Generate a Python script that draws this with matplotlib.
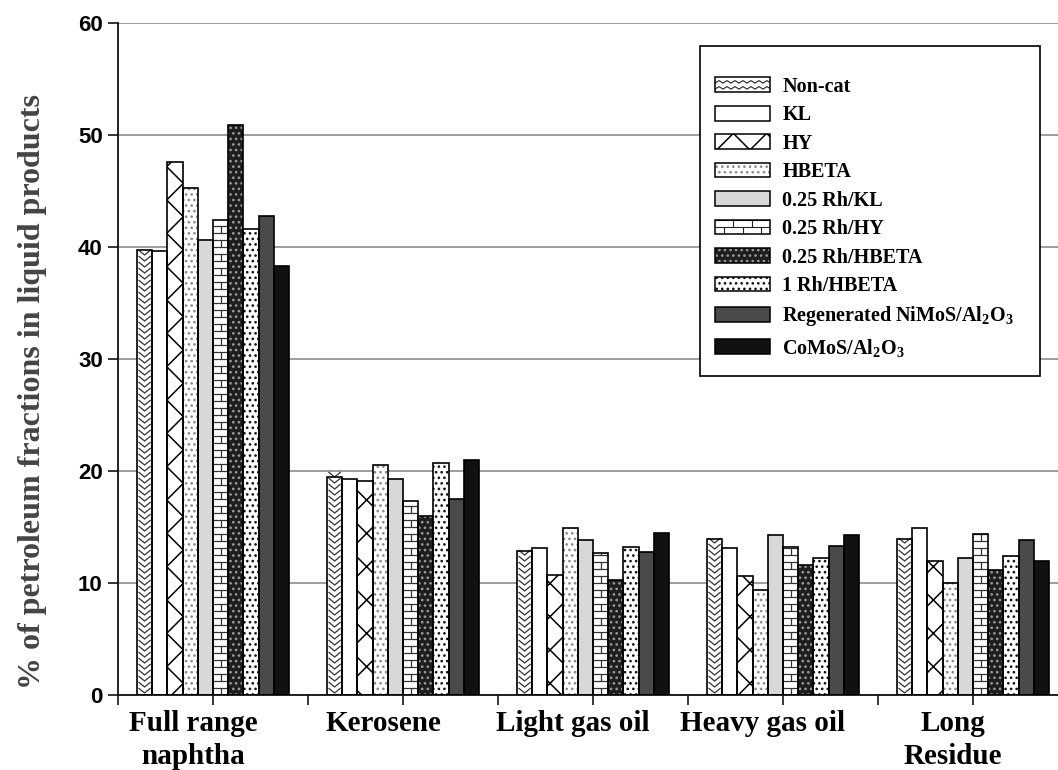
import matplotlib
matplotlib.use('Agg')
import matplotlib.pyplot as plt
import numpy as np
from matplotlib.collections import LineCollection
from matplotlib.patches import Rectangle, Patch
from matplotlib.transforms import ScaledTranslation

plt.rcParams['mathtext.default'] = 'regular'
plt.rcParams['hatch.linewidth'] = 1.1

# Fractions on the x axis and catalysts in each group
fractions = ['Full range\nnaphtha', 'Kerosene', 'Light gas oil', 'Heavy gas oil', 'Long\nResidue']
catalysts = ['Non-cat', 'KL', 'HY', 'HBETA', '0.25 Rh/KL', '0.25 Rh/HY',
             '0.25 Rh/HBETA', '1 Rh/HBETA', 'Regenerated NiMoS/Al$_2$O$_3$',
             'CoMoS/Al$_2$O$_3$']

# % of each fraction in the liquid product
non_cat = [39.7, 19.5, 12.9, 13.9, 13.9]
kl = [39.6, 19.3, 13.1, 13.1, 14.9]
hy = [47.6, 19.1, 10.7, 10.6, 12.0]
hbeta = [45.3, 20.5, 14.9, 9.4, 10.0]
rh_kl = [40.6, 19.3, 13.8, 14.3, 12.2]
rh_hy = [42.4, 17.3, 12.7, 13.2, 14.4]
rh_hbeta = [50.9, 16.0, 10.3, 11.6, 11.2]
rh1_hbeta = [41.6, 20.7, 13.2, 12.2, 12.4]
nimos = [42.8, 17.5, 12.8, 13.3, 13.8]
comos = [38.3, 21.0, 14.5, 14.3, 12.0]

series = [non_cat, kl, hy, hbeta, rh_kl, rh_hy, rh_hbeta, rh1_hbeta, nimos, comos]

# (face colour, hatch, hatch colour, drawn pattern)
styles = [
    ('white', None, 'black', 'zigzag'),
    ('white', None, 'black', None),
    ('white', 'x', 'black', None),
    ('white', '...', '#8a8a8a', None),
    ('#d8d8d8', None, 'black', None),
    ('white', None, 'black', 'brick'),
    ('#1e1e1e', '...', '#9a9a9a', None),
    ('white', '...', '#111111', None),
    ('#4a4a4a', None, 'black', None),
    ('#111111', None, 'black', None),
]


def pattern_segments(kind, x0, y0, w, h, sx, sy, legend=False):
    """Line segments for the zigzag / brick fills; sx, sy = units per pixel."""
    segs = []
    if kind == 'zigzag':
        if legend:
            # horizontal waves in the legend key
            step, amp = 4.0 * sx, 2.5 * sy
            for yc in np.arange(y0 + 3 * sy, y0 + h, 6 * sy):
                xs = np.arange(x0, x0 + w + step, step)
                ys = yc + amp * (np.arange(len(xs)) % 2)
                segs.append(np.column_stack([xs, ys]))
        else:
            dy, depth = 6 * sy, 5 * sy
            xc = x0 + w / 2
            for y in np.arange(y0 + 2 * sy, y0 + h, dy):
                segs.append([(x0 + 1.5 * sx, y + depth), (xc, y), (x0 + w - 1.5 * sx, y + depth)])
    elif kind == 'brick':
        dy = 7 * sy
        rows = np.arange(y0, y0 + h, dy)
        for k, y in enumerate(rows):
            segs.append([(x0, y), (x0 + w, y)])
            nb = 1 if not legend else 3
            for j in range(nb):
                xv = x0 + (j + (0.5 if k % 2 == 0 else 0.0)) * w / nb
                if x0 < xv < x0 + w:
                    segs.append([(xv, y), (xv, min(y + dy, y0 + h))])
    return segs


class PatternHandler:
    def __init__(self, style):
        self.style = style

    def legend_artist(self, legend, orig_handle, fontsize, handlebox):
        fc, hatch, hc, kind = self.style
        x0, y0 = -handlebox.xdescent, -handlebox.ydescent
        w, h = handlebox.width, handlebox.height
        tr = handlebox.get_transform()
        fill = Rectangle((x0, y0), w, h, facecolor=fc, hatch=hatch, edgecolor=hc,
                         linewidth=0, transform=tr)
        handlebox.add_artist(fill)
        if kind:
            lc = LineCollection(pattern_segments(kind, x0, y0, w, h, 0.72, 0.72, legend=True),
                                colors='#222222', linewidths=0.8, transform=tr)
            lc.set_clip_path(fill)
            handlebox.add_artist(lc)
        edge = Rectangle((x0, y0), w, h, fill=False, edgecolor='black', linewidth=1.1,
                         transform=tr)
        handlebox.add_artist(edge)
        return edge


fig = plt.figure(figsize=(10.58, 7.70), dpi=100)
ax = fig.add_axes([118 / 1058, 75 / 770, 950 / 1058, 672 / 770])
ax.set_xlim(-0.5, 4.5)
ax.set_ylim(0, 60)

x = np.arange(len(fractions))
bar_w = 0.08
# pixel scale of the data axes, used for the drawn fill patterns
px_x = 5.0 / 950
px_y = 60.0 / 672

handles = []
for i, (vals, st) in enumerate(zip(series, styles)):
    fc, hatch, hc, kind = st
    xs = x + (i - 4.5) * bar_w
    ax.bar(xs, vals, bar_w, color=fc, hatch=hatch, edgecolor=hc, linewidth=0, zorder=2)
    outline = ax.bar(xs, vals, bar_w, fill=False, edgecolor='black', linewidth=1.2, zorder=4)
    if kind:
        for rect in outline.patches:
            segs = pattern_segments(kind, rect.get_x(), 0, rect.get_width(), rect.get_height(),
                                    px_x, px_y)
            lc = LineCollection(segs, colors='#333333', linewidths=0.9, zorder=3)
            lc.set_clip_path(rect)
            ax.add_collection(lc)
    handles.append(Patch(label=catalysts[i]))

# axes styling
ax.set_yticks(range(0, 61, 10))
ax.yaxis.grid(True, color='#8c8c8c', linewidth=1.2)
ax.set_axisbelow(True)
for s in ['top', 'right']:
    ax.spines[s].set_visible(False)
for s in ['left', 'bottom']:
    ax.spines[s].set_linewidth(1.3)
    ax.spines[s].set_color('#111111')

ax.set_xticks(x)
ax.set_xticks(np.arange(-0.5, 5.0, 1.0), minor=True)
ax.set_xticklabels(fractions, fontfamily='Liberation Serif', fontweight='bold',
                   fontsize=21, linespacing=1.25)
ax.tick_params(axis='x', which='both', direction='out', length=7, width=1.1, pad=4)
ax.tick_params(axis='y', direction='out', length=7, width=1.1, pad=4)
for lab in ax.get_yticklabels():
    lab.set_fontfamily('Liberation Sans')
    lab.set_fontweight('bold')
    lab.set_fontsize(16)
for lab in ax.get_xticklabels():
    lab.set_transform(lab.get_transform() + ScaledTranslation(-0.2, 0, fig.dpi_scale_trans))

ax.set_ylabel('% of petroleum fractions in liquid products', fontfamily='Liberation Serif',
              fontweight='bold', fontsize=23, color='#444444', va='center')
ax.yaxis.set_label_coords(-0.0905, 0.451)

# legend box
box = Rectangle((0.6126, 0.474), 0.9705 - 0.6126, 0.9655 - 0.474, transform=ax.transAxes,
                facecolor='white', edgecolor='black', linewidth=1.2, zorder=6)
ax.add_patch(box)
leg = ax.legend(handles=handles,
                handler_map={h: PatternHandler(st) for h, st in zip(handles, styles)},
                loc='upper left', bbox_to_anchor=(0.6284, 0.92), borderaxespad=0,
                borderpad=0, frameon=False, handlelength=2.75, handleheight=0.75,
                handletextpad=0.6, labelspacing=0.42,
                prop={'family': 'Liberation Serif', 'weight': 'bold', 'size': 14.5})
leg.set_zorder(7)

fig.savefig('out.png', dpi=100)
